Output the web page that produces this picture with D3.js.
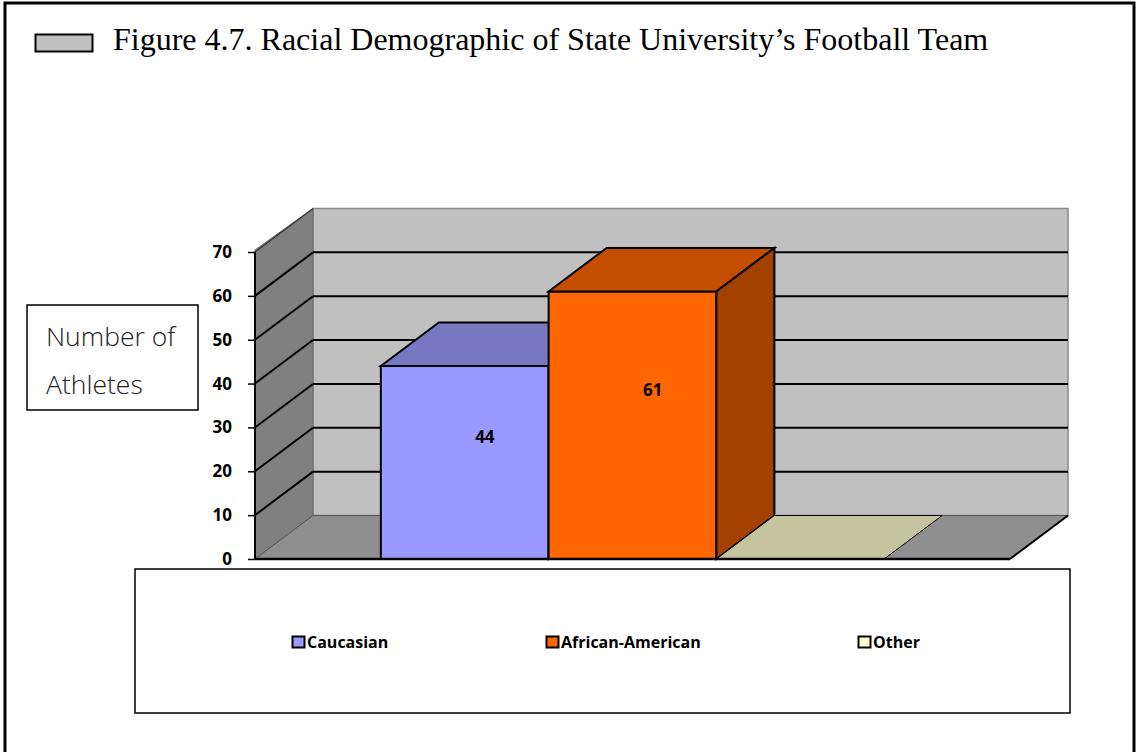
<!DOCTYPE html>
<html>
<head>
<meta charset="utf-8">
<script src="https://cdn.jsdelivr.net/npm/d3@7"></script>
<style>
  html, body { margin: 0; padding: 0; background: #fff; }
  svg { display: block; }
</style>
</head>
<body>
<svg id="chart" width="1138" height="752"></svg>
<script>
// ---- data ----
const titleText = "Figure 4.7. Racial Demographic of State University\u2019s Football Team";
const seriesNames = ["Caucasian", "African-American", "Other"];
const seriesValues = [44, 61, 0];
const yTicks = [0, 10, 20, 30, 40, 50, 60, 70];
const yLabelLines = ["Number of", "Athletes"];

// ---- styles ----
const frontColors = ["#9999ff", "#ff6600", "#ffffcc"];
const topColors = ["#7777c4", "#c44e00", "#c4c49e"];
const sideColors = ["#6666aa", "#a44000", "#a8a888"];

const svg = d3.select("#chart");

// outer frame (no bottom edge visible)
svg.append("path").attr("d", "M5,760V3H1134V760")
  .attr("fill", "#fff").attr("stroke", "#000").attr("stroke-width", 3);

// title
svg.append("rect").attr("x", 35.5).attr("y", 34.5).attr("width", 57).attr("height", 17)
  .attr("fill", "#c0c0c0").attr("stroke", "#000").attr("stroke-width", 2);
svg.append("text").attr("x", 113).attr("y", 50)
  .attr("font-family", "'Liberation Serif', 'Times New Roman', serif")
  .attr("font-size", 32).attr("fill", "#000").text(titleText);

// ---- 3D geometry ----
const x0 = 255, x1 = 1010;           // front plot extent
const dx = 58, dy = -43.5;           // depth offset
const y = d3.scaleLinear().domain([0, 70]).range([559, 252]);
const xb = d3.scaleBand().domain(seriesNames).range([x0, x1]).paddingInner(0).paddingOuter(0.75);

const poly = pts => pts.map(p => p.join(",")).join(" ");

// back wall
svg.append("polygon")
  .attr("points", poly([[x0 + dx, y(70) + dy], [x1 + dx, y(70) + dy], [x1 + dx, y(0) + dy], [x0 + dx, y(0) + dy]]))
  .attr("fill", "#c0c0c0").attr("stroke", "#8a8a8a").attr("stroke-width", 1.5);
// left wall
svg.append("polygon")
  .attr("points", poly([[x0, y(70) - 2], [x0 + dx, y(70) + dy], [x0 + dx, y(0) + dy], [x0, y(0)]]))
  .attr("fill", "#808080").attr("stroke", "#6a6a6a").attr("stroke-width", 1);
// floor
svg.append("polygon")
  .attr("points", poly([[x0, y(0)], [x0 + dx, y(0) + dy], [x1 + dx, y(0) + dy], [x1, y(0)]]))
  .attr("fill", "#8f8f8f").attr("stroke", "#555").attr("stroke-width", 1);

// gridlines
const grid = svg.append("g");
yTicks.filter(t => t > 0).forEach(t => {
  const strong = t < 70;
  grid.append("line")
    .attr("x1", x0).attr("y1", y(t)).attr("x2", x0 + dx).attr("y2", y(t) + dy)
    .attr("stroke", strong ? "#000" : "#333").attr("stroke-width", strong ? 2 : 1.2);
  if (strong) {
    grid.append("line")
      .attr("x1", x0 + dx).attr("y1", y(t) + dy).attr("x2", x1 + dx).attr("y2", y(t) + dy)
      .attr("stroke", "#000").attr("stroke-width", 2);
  }
});

// floor right edge
svg.append("line").attr("x1", x1).attr("y1", y(0)).attr("x2", x1 + dx).attr("y2", y(0) + dy)
  .attr("stroke", "#000").attr("stroke-width", 2);

// bars
const bars = svg.append("g");
seriesNames.forEach((name, i) => {
  const v = seriesValues[i];
  const bx = xb(name), bw = xb.bandwidth();
  const top = y(v), bot = y(0);
  bars.append("rect").attr("x", bx).attr("y", top).attr("width", bw).attr("height", bot - top)
    .attr("fill", frontColors[i]).attr("stroke", "#000").attr("stroke-width", 2);
  bars.append("polygon")
    .attr("points", poly([[bx, top], [bx + dx, top + dy], [bx + bw + dx, top + dy], [bx + bw, top]]))
    .attr("fill", topColors[i]).attr("stroke", "#000").attr("stroke-width", v > 0 ? 2 : 1);
  if (v > 0) {
    bars.append("polygon")
      .attr("points", poly([[bx + bw, top], [bx + bw + dx, top + dy], [bx + bw + dx, bot + dy], [bx + bw, bot]]))
      .attr("fill", sideColors[i]).attr("stroke", "#000").attr("stroke-width", 2);
  }
});

// data labels
seriesNames.forEach((name, i) => {
  const v = seriesValues[i];
  if (v <= 0) return;
  svg.append("text")
    .attr("x", xb(name) + xb.bandwidth() * 0.62)
    .attr("y", y(v * 0.63) + 6)
    .attr("text-anchor", "middle")
    .attr("font-family", "'Open Sans', 'Noto Sans', sans-serif")
    .attr("font-weight", "bold").attr("font-size", 17).attr("fill", "#000")
    .text(v);
});

// floor front edge
svg.append("line").attr("x1", x0).attr("y1", y(0)).attr("x2", x1).attr("y2", y(0))
  .attr("stroke", "#000").attr("stroke-width", 2.5);

// y axis
const yAxis = d3.axisLeft(y).tickValues(yTicks).tickSize(7).tickPadding(16);
const ya = svg.append("g").attr("transform", `translate(${x0},0)`).call(yAxis);
ya.select(".domain").attr("stroke", "#000").attr("stroke-width", 2)
  .attr("d", `M0,${y(70)}V${y(0)}`);
ya.selectAll(".tick line").attr("stroke", "#000").attr("stroke-width", 1.5);
ya.selectAll(".tick text")
  .attr("font-family", "'Open Sans', 'Noto Sans', sans-serif")
  .attr("font-weight", "bold").attr("font-size", 17).attr("fill", "#000");

// y label box
svg.append("rect").attr("x", 27).attr("y", 305).attr("width", 171).attr("height", 105)
  .attr("fill", "#fff").attr("stroke", "#000").attr("stroke-width", 1.5);
svg.append("g").selectAll("text").data(yLabelLines).join("text")
  .attr("x", 46).attr("y", (d, i) => 346 + i * 48)
  .attr("font-family", "'Open Sans', 'Noto Sans', sans-serif")
  .attr("font-weight", 300).attr("font-size", 26.5).attr("fill", "#222")
  .text(d => d);

// legend
svg.append("rect").attr("x", 135).attr("y", 569).attr("width", 935).attr("height", 144)
  .attr("fill", "#fff").attr("stroke", "#000").attr("stroke-width", 1.5);
const legendX = [292, 546, 858];
const lg = svg.append("g").selectAll("g").data(seriesNames).join("g")
  .attr("transform", (d, i) => `translate(${legendX[i]},636)`);
lg.append("rect").attr("x", 0.5).attr("y", 0.5).attr("width", 12).attr("height", 11)
  .attr("fill", (d, i) => frontColors[i]).attr("stroke", "#000").attr("stroke-width", 2);
lg.append("text").attr("x", 15).attr("y", 12)
  .attr("font-family", "'Open Sans', 'Noto Sans', sans-serif")
  .attr("font-weight", "bold").attr("font-size", 16).attr("fill", "#000")
  .text(d => d);
</script>
</body>
</html>
